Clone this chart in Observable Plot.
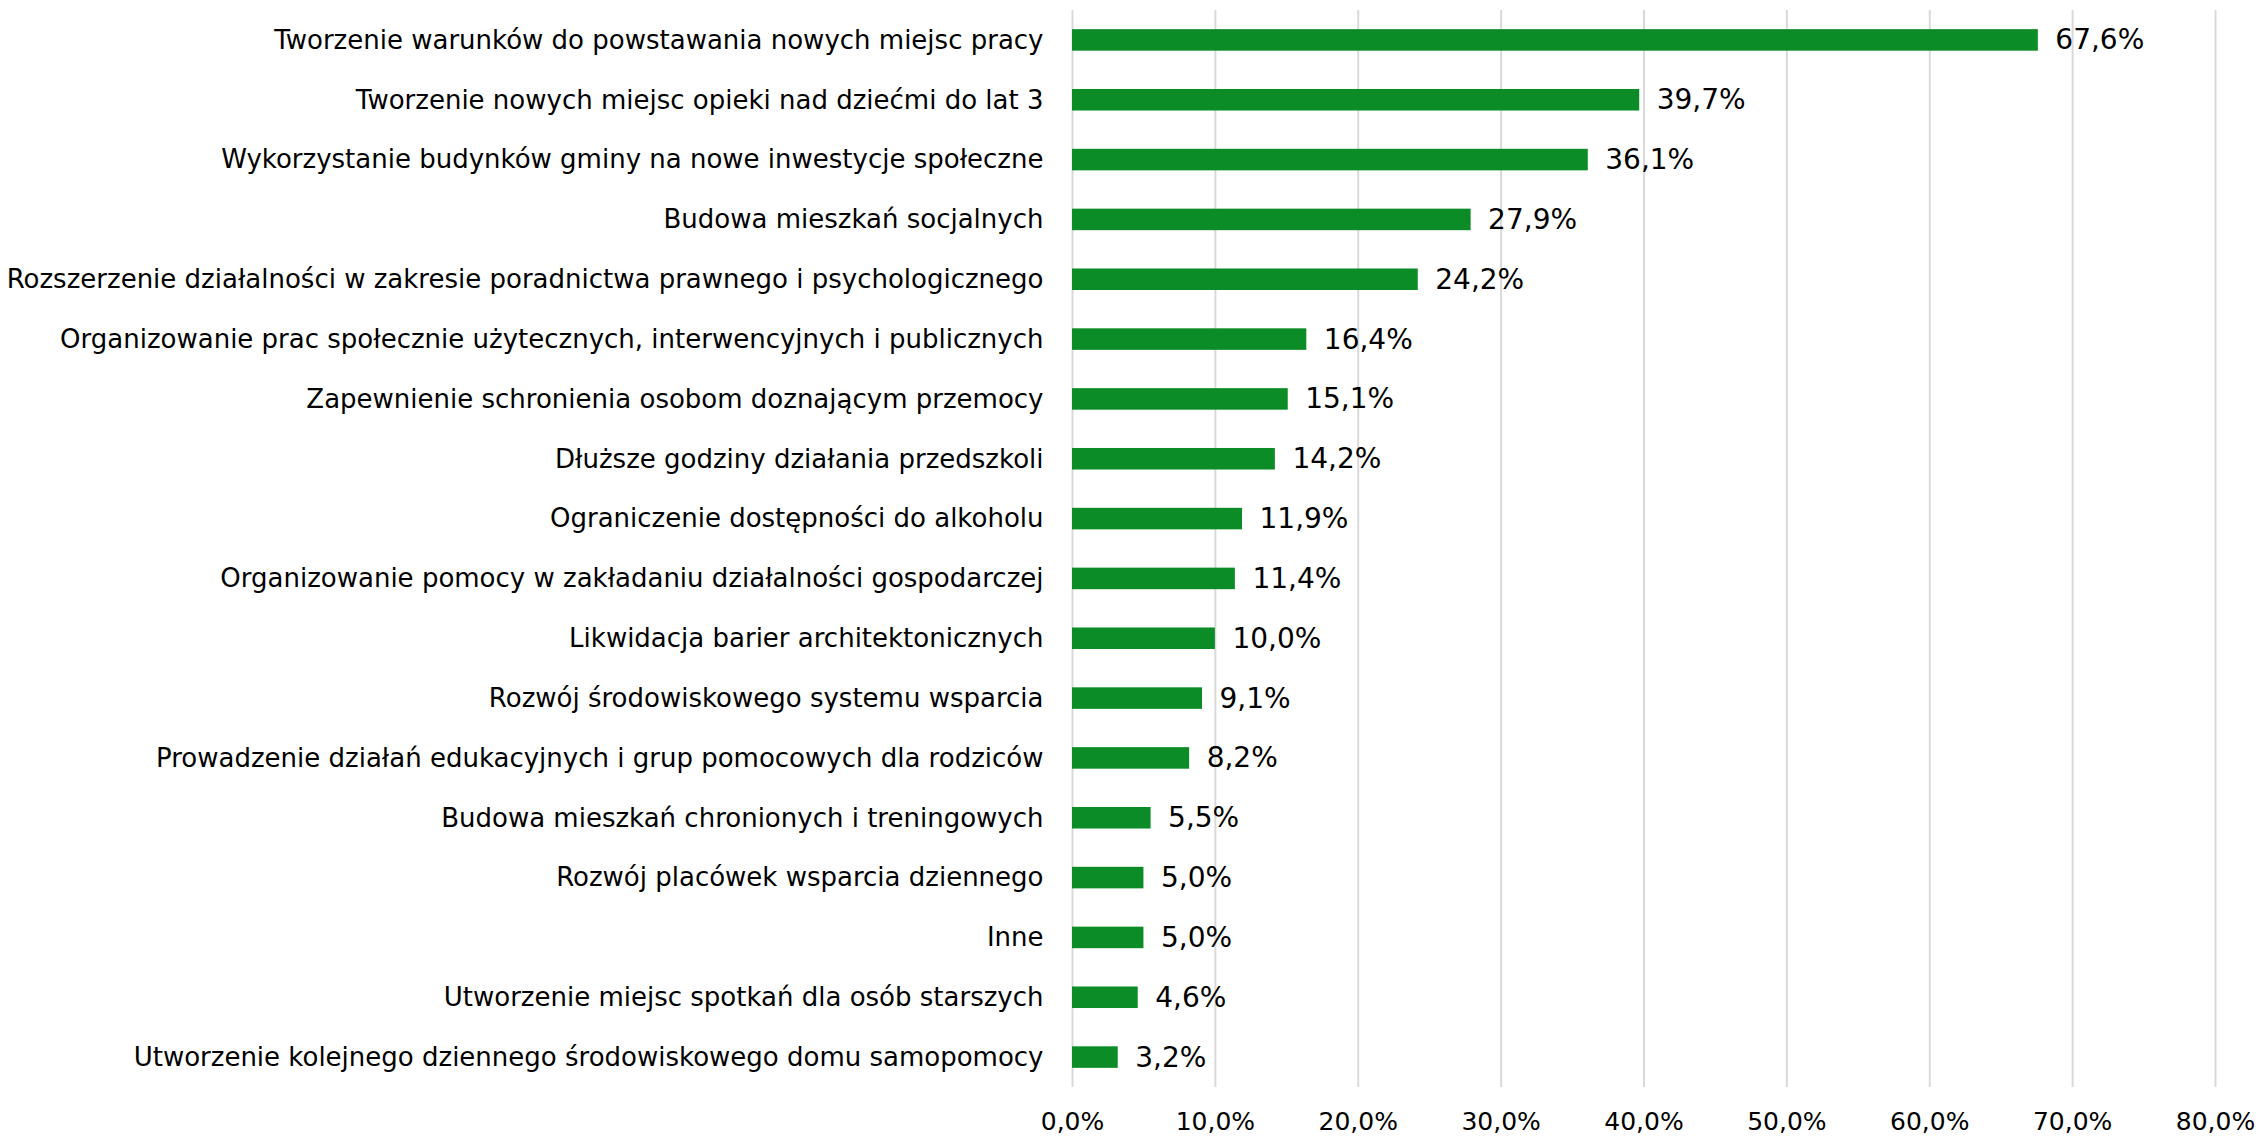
<!DOCTYPE html>
<html>
<head>
<meta charset="utf-8">
<script src="https://cdn.jsdelivr.net/npm/d3@7"></script>
<script src="https://cdn.jsdelivr.net/npm/@observablehq/plot@0.6"></script>
<style>
  html, body { margin: 0; padding: 0; background: #fff; }
</style>
</head>
<body>
<div id="chart"></div>
<script>
const categories = [
  "Tworzenie warunków do powstawania nowych miejsc pracy",
  "Tworzenie nowych miejsc opieki nad dziećmi do lat 3",
  "Wykorzystanie budynków gminy na nowe inwestycje społeczne",
  "Budowa mieszkań socjalnych",
  "Rozszerzenie działalności w zakresie poradnictwa prawnego i psychologicznego",
  "Organizowanie prac społecznie użytecznych, interwencyjnych i publicznych",
  "Zapewnienie schronienia osobom doznającym przemocy",
  "Dłuższe godziny działania przedszkoli",
  "Ograniczenie dostępności do alkoholu",
  "Organizowanie pomocy w zakładaniu działalności gospodarczej",
  "Likwidacja barier architektonicznych",
  "Rozwój środowiskowego systemu wsparcia",
  "Prowadzenie działań edukacyjnych i grup pomocowych dla rodziców",
  "Budowa mieszkań chronionych i treningowych",
  "Rozwój placówek wsparcia dziennego",
  "Inne",
  "Utworzenie miejsc spotkań dla osób starszych",
  "Utworzenie kolejnego dziennego środowiskowego domu samopomocy"
];
const values = [67.6, 39.7, 36.1, 27.9, 24.2, 16.4, 15.1, 14.2, 11.9, 11.4, 10.0, 9.1, 8.2, 5.5, 5.0, 5.0, 4.6, 3.2];
const xTicks = [0, 10, 20, 30, 40, 50, 60, 70, 80];

const data = categories.map((c, i) => ({category: c, value: values[i]}));
const fmt = v => v.toFixed(1).replace(".", ",") + "%";

const chart = Plot.plot({
  width: 2259,
  height: 1137,
  marginLeft: 1072,
  marginRight: 44,
  marginTop: 10,
  marginBottom: 50,
  style: {fontFamily: "DejaVu Sans", fontSize: "26px", color: "#000", background: "#fff"},
  x: {domain: [0, 80], ticks: xTicks, tickFormat: fmt},
  y: {domain: categories, paddingInner: 0.64, paddingOuter: 0.32, round: false},
  marks: [
    Plot.ruleX(xTicks, {stroke: "#d9d9d9", strokeWidth: 2}),
    Plot.barX(data, {y: "category", x: "value", fill: "#0c8c27"}),
    Plot.text(data, {y: "category", x: "value", text: d => fmt(d.value), textAnchor: "start", dx: 17, fontSize: 28, fill: "#000"}),
    Plot.axisX({ticks: xTicks, tickFormat: fmt, tickSize: 0, tickPadding: 25, fontSize: 25, label: null}),
    Plot.axisY({tickSize: 0, tickPadding: 29, fontSize: 26, label: null})
  ]
});
document.getElementById("chart").appendChild(chart);
</script>
</body>
</html>
